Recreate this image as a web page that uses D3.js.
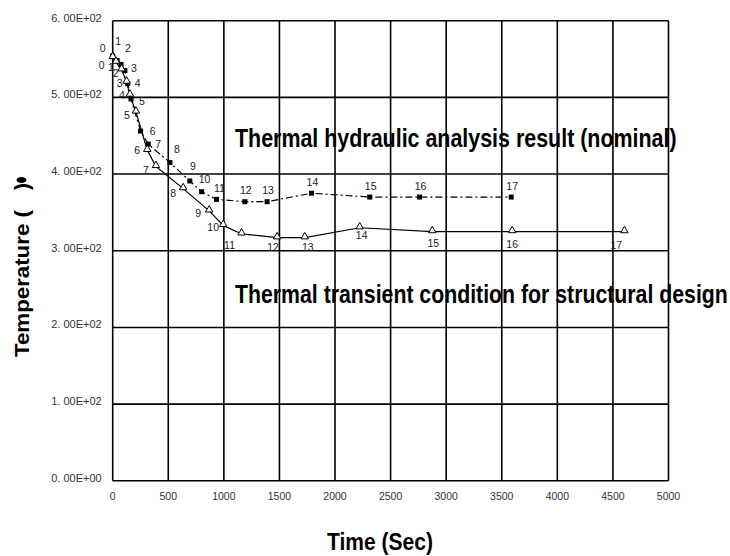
<!DOCTYPE html>
<html><head><meta charset="utf-8">
<script src="https://cdn.jsdelivr.net/npm/d3@7"></script>
<style>
html,body{margin:0;padding:0;background:#fff;}
svg{display:block;}
</style></head>
<body>
<svg id="chart" width="730" height="556"></svg>
<script>
// ---- data ----
const pointIds = [0,1,2,3,4,5,6,7,8,9,10,11,12,13,14,15,16,17];
const nominalTime = [0,40,75,110,135,165,251,320,515,694,800,934,1189,1389,1788,2312,2761,3585];
const nominalTemp = [554,548,543,535,518,498,456,439,415,391,377,367,364,364,375,370,370,370];
const transientTime = [0,30,80,125,155,209,311,389,634,868,994,1159,1479,1728,2222,2875,3594,4603];
const transientTemp = [552,546,536,520,503,481,431,410,381,352,333,322,317,317,330,325,325,325];
const xTickValues = [0,500,1000,1500,2000,2500,3000,3500,4000,4500,5000];
const yTickValues = [0,100,200,300,400,500,600];
const yTickLabels = ["0. 00E+00","1. 00E+02","2. 00E+02","3. 00E+02","4. 00E+02","5. 00E+02","6. 00E+02"];
const annotNominal = "Thermal hydraulic analysis result (nominal)";
const annotTransient = "Thermal transient condition for structural design";
const xTitle = "Time (Sec)";
const yTitle = "Temperature (";

// ---- label layout (offsets of the point number labels) ----
const nomLabelDx = [-10,1,7,9,10,11,12,10,7,3,3,3,1,1,1,1,1,1];
const nomLabelDy = [-8,-19,-16,-2,0,2,0,0,-13,-15,-12,-11,-11,-11,-11,-11,-11,-11];
const trLabelDx = [-11,-5,-6,-7,-8,-9,-10,-10,-10,-11,-10,-12,-4,3,2,1,0,-8];
const trLabelDy = [8,5,4,1,0,3,0,4,5,2,2,11,10,10,8,12,13,14];

// ---- layout ----
const svg = d3.select("#chart");
const L = 112.7, R = 668.5, T = 20.7, B = 480.8;
const x = d3.scaleLinear().domain([0,5000]).range([L,R]);
const y = d3.scaleLinear().domain([0,600]).range([B,T]);
const font = "Liberation Sans, Arial, sans-serif";

// grid
const g = svg.append("g");
g.selectAll("line.vx").data(xTickValues).enter().append("line")
  .attr("x1",d=>x(d)).attr("x2",d=>x(d)).attr("y1",T).attr("y2",B)
  .attr("stroke","#000").attr("stroke-width",1.6);
g.selectAll("line.hy").data(yTickValues).enter().append("line")
  .attr("x1",L).attr("x2",R).attr("y1",d=>y(d)).attr("y2",d=>y(d))
  .attr("stroke","#000").attr("stroke-width",1.6);

// tick labels
svg.append("g").selectAll("text").data(yTickValues).enter().append("text")
  .attr("x",L-11).attr("y",d=>y(d)-3).attr("dy","0.35em")
  .attr("text-anchor","end").attr("font-family",font)
  .attr("font-size",11).attr("fill","#333")
  .text((d,i)=>yTickLabels[i]);
svg.append("g").selectAll("text").data(xTickValues).enter().append("text")
  .attr("x",d=>x(d)).attr("y",496).attr("dy","0.35em")
  .attr("text-anchor","middle").attr("font-family",font)
  .attr("font-size",10.5).attr("fill","#333")
  .text(d=>d);

// lines
const nomData = pointIds.map((id,i)=>({id,t:nominalTime[i],v:nominalTemp[i],i}));
const trData = pointIds.map((id,i)=>({id,t:transientTime[i],v:transientTemp[i],i}));
const line = d3.line().x(d=>x(d.t)).y(d=>y(d.v));
svg.append("path").datum(nomData).attr("d",line).attr("fill","none")
  .attr("stroke","#000").attr("stroke-width",1.2).attr("stroke-dasharray","7,3,2,3");
svg.append("path").datum(trData).attr("d",line).attr("fill","none")
  .attr("stroke","#000").attr("stroke-width",1.2);

// markers
svg.append("g").selectAll("rect").data(nomData).enter().append("rect")
  .attr("x",d=>x(d.t)-2.5).attr("y",d=>y(d.v)-2.5).attr("width",5).attr("height",5)
  .attr("fill","#000");
const tri = d3.symbol().type(d3.symbolTriangle).size(24);
svg.append("g").selectAll("path").data(trData).enter().append("path")
  .attr("d",tri).attr("transform",d=>`translate(${x(d.t)},${y(d.v)-1})`)
  .attr("fill","#fff").attr("stroke","#000").attr("stroke-width",1);

// point labels
svg.append("g").selectAll("text").data(nomData).enter().append("text")
  .attr("x",d=>x(d.t)+nomLabelDx[d.i]).attr("y",d=>y(d.v)+nomLabelDy[d.i]).attr("dy","0.35em")
  .attr("text-anchor","middle").attr("font-family",font).attr("font-size",10.5).attr("fill","#222")
  .text(d=>d.id);
svg.append("g").selectAll("text").data(trData).enter().append("text")
  .attr("x",d=>x(d.t)+trLabelDx[d.i]).attr("y",d=>y(d.v)+trLabelDy[d.i]).attr("dy","0.35em")
  .attr("text-anchor","middle").attr("font-family",font).attr("font-size",10.5).attr("fill","#222")
  .text(d=>d.id);

// condensed bold text helper
function condensed(str, px, py, size, targetW, rot){
  const grp = svg.append("g");
  const t = grp.append("text").attr("x",0).attr("y",0).attr("font-family",font)
    .attr("font-weight","bold").attr("font-size",size).attr("fill","#000").text(str);
  const w = t.node().getComputedTextLength();
  const s = targetW / w;
  grp.attr("transform",`translate(${px},${py})${rot?` rotate(${rot})`:""} scale(${s},1)`);
  return grp;
}

// annotations
condensed(annotNominal, 235, 147, 25, 442);
condensed(annotTransient, 235, 303, 25, 493);

// axis titles
condensed(xTitle, 327, 550, 23, 106);
condensed(yTitle, 28.5, 357, 21, 147, -90);
const yt = svg.append("g").attr("transform","translate(28.5,357) rotate(-90)");
yt.append("text").attr("x",167).attr("y",0).attr("font-family",font)
  .attr("font-weight","bold").attr("font-size",21).attr("fill","#000").text(")");
yt.append("ellipse").attr("cx",177).attr("cy",-7).attr("rx",3).attr("ry",5).attr("fill","#000");
</script>
</body></html>
